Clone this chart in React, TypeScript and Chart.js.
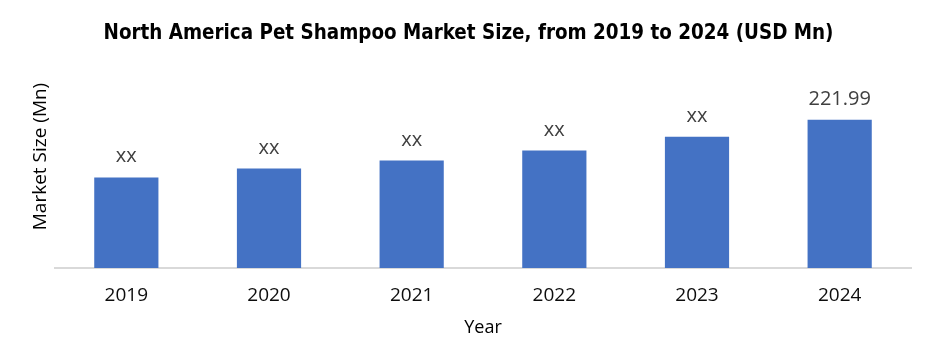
import React, { useEffect, useRef } from "react";
import { Chart, registerables } from "chart.js";

Chart.register(...registerables);

const years = ["2019", "2020", "2021", "2022", "2023", "2024"];
const marketSize = [135.6, 149.0, 160.9, 175.8, 196.7, 221.99];
const valueLabels = ["xx", "xx", "xx", "xx", "xx", "221.99"];

const chartTitle = "North America Pet Shampoo Market Size, from 2019 to 2024 (USD Mn)";
const xTitle = "Year";
const yTitle = "Market Size (Mn)";

const BAR_COLOR = "#4472C4";
const FONT = "'Open Sans', 'Noto Sans', sans-serif";
const TITLE_FONT = "'Liberation Sans Narrow', 'DejaVu Sans Condensed', 'Open Sans', sans-serif";

const valueLabelPlugin = {
  id: "valueLabels",
  afterDatasetsDraw(chart: any) {
    const ctx = chart.ctx;
    const meta = chart.getDatasetMeta(0);
    ctx.save();
    ctx.font = `20px ${FONT}`;
    ctx.fillStyle = "#404040";
    ctx.textAlign = "center";
    ctx.textBaseline = "alphabetic";
    meta.data.forEach((bar: any, i: number) => {
      ctx.fillText(valueLabels[i], bar.x, bar.y - 15);
    });
    ctx.restore();
  },
};

export default function App() {
  const canvasRef = useRef<HTMLCanvasElement | null>(null);

  useEffect(() => {
    document.body.style.margin = "0";
    const canvas = canvasRef.current;
    if (!canvas) return;
    const chart = new Chart(canvas, {
      type: "bar",
      data: {
        labels: years,
        datasets: [
          {
            data: marketSize,
            backgroundColor: BAR_COLOR,
            borderWidth: 0,
            categoryPercentage: 1,
            barPercentage: 0.45,
          },
        ],
      },
      options: {
        responsive: false,
        animation: false,
        devicePixelRatio: 1,
        layout: { padding: 0 },
        plugins: {
          legend: { display: false },
          tooltip: { enabled: false },
          title: {
            display: true,
            text: chartTitle,
            color: "#000000",
            font: { family: TITLE_FONT, size: 20.4, weight: "bold", lineHeight: "22px" },
            padding: { top: 23, bottom: 0 },
          },
        },
        scales: {
          x: {
            grid: { display: false, drawTicks: false },
            border: { display: true, color: "#D9D9D9", width: 2 },
            ticks: {
              color: "#0d0d0d",
              font: { family: FONT, size: 19, lineHeight: 1.2 },
              padding: 16.6,
            },
            title: {
              display: true,
              text: xTitle,
              color: "#000000",
              font: { family: FONT, size: 18, lineHeight: "8px" },
              padding: { top: 0, bottom: 20 },
            },
          },
          y: {
            min: 0,
            max: 334,
            grid: { display: false, drawTicks: false },
            border: { display: false },
            ticks: { display: false },
            title: {
              display: true,
              text: yTitle,
              color: "#000000",
              font: { family: FONT, size: 19, lineHeight: 1.2 },
              padding: { top: 29.6, bottom: 2.6 },
            },
          },
          yRight: {
            position: "right",
            display: true,
            min: 0,
            max: 334,
            grid: { display: false, drawTicks: false },
            border: { display: false },
            ticks: { display: false },
            afterFit: (scale: any) => {
              scale.width = 26;
            },
          },
        },
      },
      plugins: [valueLabelPlugin],
    });
    return () => chart.destroy();
  }, []);

  return (
    <div style={{ width: 937, height: 352 }}>
      <canvas ref={canvasRef} width={937} height={352} />
    </div>
  );
}
